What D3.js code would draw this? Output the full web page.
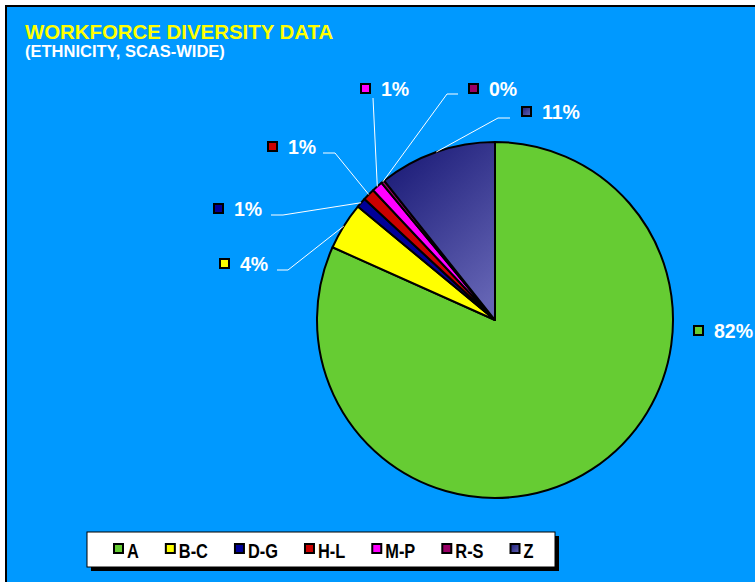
<!DOCTYPE html>
<html>
<head>
<meta charset="utf-8">
<script src="https://cdn.jsdelivr.net/npm/d3@7"></script>
<style>
  body { margin: 0; background: #fff; }
  svg { display: block; font-family: Arial, "Liberation Sans", sans-serif; font-weight: bold; }
</style>
</head>
<body>
<svg id="chart" width="755" height="582"></svg>
<script>
// data (percent of workforce)
var categories = ["A", "B-C", "D-G", "H-L", "M-P", "R-S", "Z"];
var values = [81.7, 4.3, 0.9, 1.1, 1.0, 0.3, 10.7];
var labels = ["82%", "4%", "1%", "1%", "1%", "0%", "11%"];
var colors = ["#66cc33", "#ffff00", "#000099", "#cc0000", "#ff00ff", "#990066", "url(#zgrad2)"];

var W = 755, H = 582;
var cx = 495, cy = 320, R = 178;

// label placement: swatch x, text baseline, leader bend and end (null = no leader)
var labelLayout = [
    {x: 693, y: 338, bend: null, end: null},
    {x: 219, y: 271, bend: [288, 270], end: [277, 270]},
    {x: 213, y: 216, bend: [283, 215], end: [271, 215]},
    {x: 267, y: 154, bend: [335, 153], end: [323, 153]},
    {x: 360, y: 96, bend: null, end: [373, 98]},
    {x: 468, y: 96, bend: [447, 94], end: [458, 94]},
    {x: 521, y: 119, bend: [498, 118], end: [510, 118]}
];

var svg = d3.select("#chart");
var defs = svg.append("defs");

var addGrad = function(id, attrs) {
    var gr = defs.append("linearGradient").attr("id", id);
    for (var k in attrs) gr.attr(k, attrs[k]);
    gr.append("stop").attr("offset", "0%").attr("stop-color", "#1c1c78");
    gr.append("stop").attr("offset", "100%").attr("stop-color", "#6464b4");
};
// pie slice is drawn in a group centred on the pie, so coords are relative
addGrad("zgradLocal", {gradientUnits: "userSpaceOnUse",
    x1: 385 - cx, y1: 165 - cy, x2: 500 - cx, y2: 290 - cy});
addGrad("zgrad2", {x1: "0%", y1: "0%", x2: "100%", y2: "100%"});

// background + border
svg.append("rect")
    .attr("x", 6).attr("y", 6)
    .attr("width", W + 10).attr("height", H + 10)
    .attr("fill", "#0099ff")
    .attr("stroke", "#000")
    .attr("stroke-width", 2);

svg.append("text")
    .attr("x", 25).attr("y", 39)
    .attr("font-size", 20.4)
    .attr("fill", "#ffff00")
    .text("WORKFORCE DIVERSITY DATA");

svg.append("text")
    .attr("x", 25).attr("y", 57)
    .attr("font-size", 16.5)
    .attr("fill", "#fff")
    .text("(ETHNICITY, SCAS-WIDE)");

// PIE
var pie = d3.pie().sort(null).value(function(d) { return d; });
var arcs = pie(values);
var arc = d3.arc().innerRadius(0).outerRadius(R);

var g = svg.append("g").attr("transform", "translate(" + cx + "," + cy + ")");

g.selectAll("path.slice")
    .data(arcs)
    .enter().append("path")
    .attr("class", "slice")
    .attr("d", arc)
    .attr("fill", function(d, i) { return i === 6 ? "url(#zgradLocal)" : colors[i]; })
    .attr("stroke", "#000")
    .attr("stroke-width", 2)
    .attr("stroke-linejoin", "round");

// LABELS
var lab = svg.append("g");

arcs.forEach(function(d, i) {
    var L = labelLayout[i];
    if (L.end) {
        var mid = (d.startAngle + d.endAngle) / 2;
        var p0 = [cx + R * Math.sin(mid), cy - R * Math.cos(mid)];
        var pts = [p0];
        if (L.bend) pts.push(L.bend);
        pts.push(L.end);
        lab.append("path")
            .attr("d", d3.line()(pts))
            .attr("fill", "none")
            .attr("stroke", "#fff")
            .attr("stroke-width", 1);
    }
    lab.append("rect")
        .attr("x", L.x + 1).attr("y", L.y - 12)
        .attr("width", 9).attr("height", 9)
        .attr("fill", colors[i])
        .attr("stroke", "#000")
        .attr("stroke-width", 2);
    lab.append("text")
        .attr("x", L.x + 21).attr("y", L.y)
        .attr("font-size", 19.5)
        .attr("fill", "#fff")
        .text(labels[i]);
});

// LEGEND
var legX = 87, legY = 532, legW = 468, legH = 35;
svg.append("rect")
    .attr("x", legX + 4).attr("y", legY + 4)
    .attr("width", legW).attr("height", legH)
    .attr("fill", "#000");
svg.append("rect")
    .attr("x", legX).attr("y", legY)
    .attr("width", legW).attr("height", legH)
    .attr("fill", "#fff")
    .attr("stroke", "#000")
    .attr("stroke-width", 1);

var squeeze = 0.82; // legend font in the original is a narrow face

var items = svg.append("g").selectAll("g")
    .data(categories)
    .enter().append("g");
items.append("rect")
    .attr("x", 1).attr("y", 1)
    .attr("width", 9).attr("height", 9)
    .attr("fill", function(d, i) { return colors[i]; })
    .attr("stroke", "#000")
    .attr("stroke-width", 2);
items.append("text")
    .attr("transform", "translate(14,15) scale(" + squeeze + ",1)")
    .attr("font-size", 20)
    .attr("fill", "#000")
    .text(function(d) { return d; });

// flow items left to right by text width
var xpos = 113;
items.each(function() {
    var it = d3.select(this);
    it.attr("transform", "translate(" + xpos + ",543)");
    xpos += 14 + it.select("text").node().getComputedTextLength() * squeeze + 26;
});
</script>
</body>
</html>
